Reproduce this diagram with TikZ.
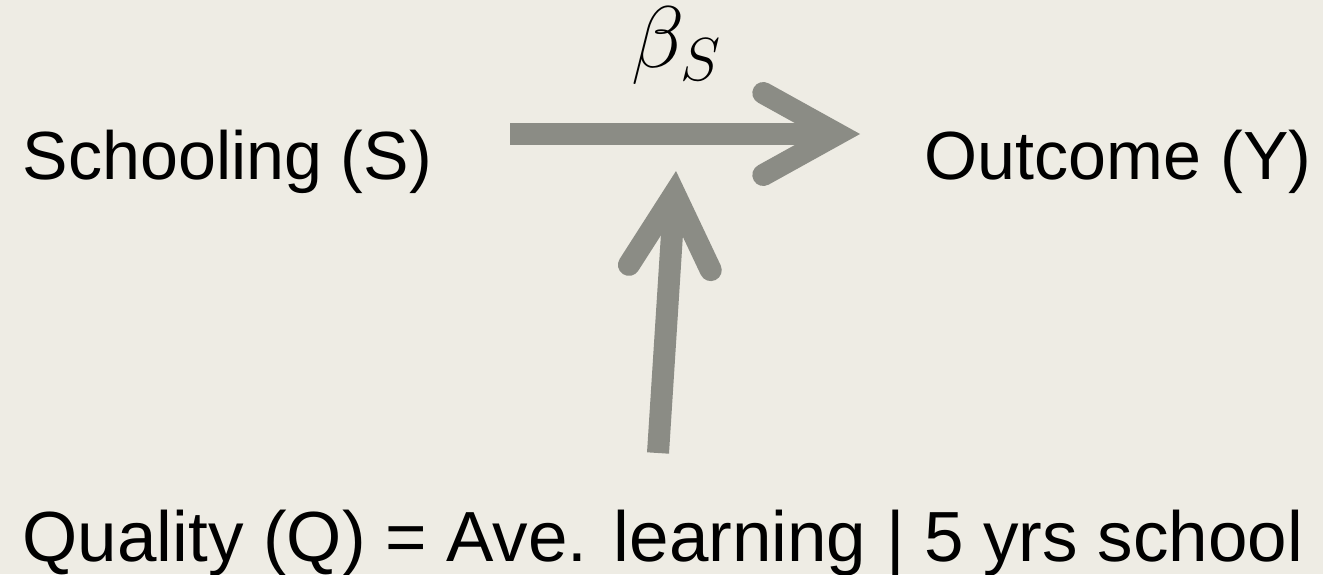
\documentclass[tikz,border=0pt]{standalone}
\usepackage{fontspec}
\setmainfont{Liberation Sans}
\usepackage{amsmath}
\usetikzlibrary{arrows.meta,calc}

\definecolor{bgpaper}{RGB}{238,236,228}
\definecolor{arrowgray}{RGB}{139,140,133}

\tikzset{
    varlabel/.style={inner sep=0pt, text=black, font=\fontsize{19.4}{23}\selectfont},
    link/.style={line width=2.2mm, draw=arrowgray,
        -{Straight Barb[length=7.4mm, width=8.2mm, line cap=round]}}
}

\begin{document}
\begin{tikzpicture}
    \fill[bgpaper] (0,0) rectangle (13.23,5.74);
    \useasboundingbox (0,0) rectangle (13.23,5.74);

    \node[varlabel, anchor=base west] (S) at (0.22,3.95) {Schooling (S)};
    \node[varlabel, anchor=base east] (Y) at (13.12,3.95) {Outcome (Y)};
    \node[varlabel, anchor=base west, font=\fontsize{20.2}{24}\selectfont] (Q) at (0.22,0.13)
        {Quality (Q) = Ave. learning | 5 yrs school};
    \node[inner sep=0pt, font=\fontsize{25}{29}\selectfont] (beta) at (6.77,5.28) {$\beta_S$};

    % rodyklės galai
    \coordinate (SY1) at (5.10,4.40);
    \coordinate (SY2) at (8.60,4.40);
    \coordinate (Q1) at (6.58,1.21);
    \coordinate (Q2) at (6.76,4.03);

    \draw[link] (SY1) -- (SY2);
    \draw[link] (Q1) -- (Q2);
\end{tikzpicture}
\end{document}
